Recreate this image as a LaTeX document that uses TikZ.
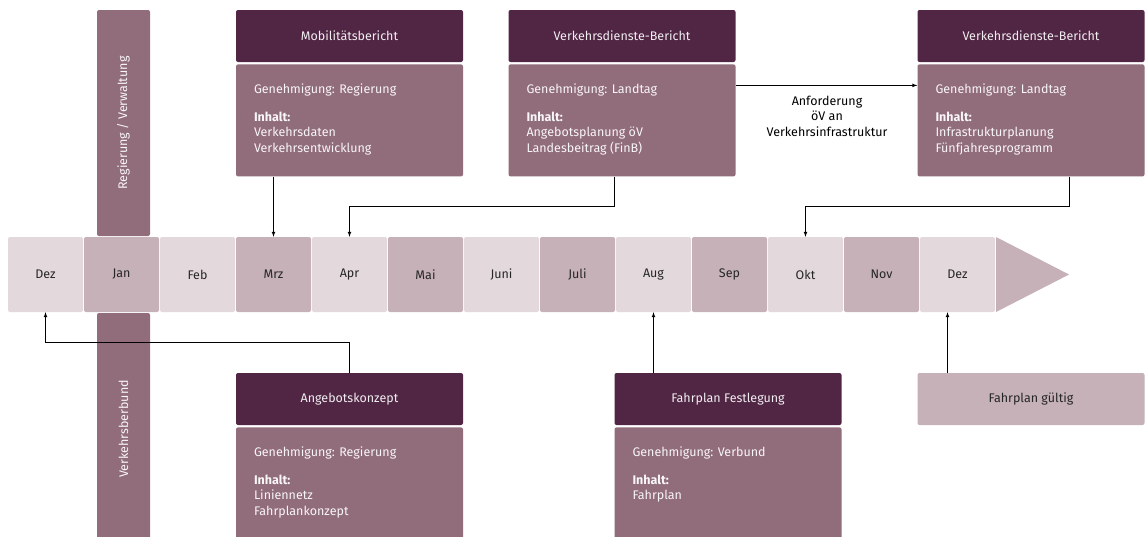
\documentclass[tikz,border=0pt]{standalone}
\usepackage{fontspec}
\setmainfont{Fira Sans}
\usetikzlibrary{positioning}
\definecolor{kopfviolett}{HTML}{512645}
\definecolor{inhaltviolett}{HTML}{916C7B}
\definecolor{monathell}{HTML}{E3D8DC}
\definecolor{monatmittel}{HTML}{C5B1B7}
\tikzset{
  monat/.style={rounded corners=2pt, minimum width=75pt, minimum height=75pt, inner sep=0pt, text=black!85},
  kopf/.style={fill=kopfviolett, rounded corners=2pt, minimum width=227pt, minimum height=52pt, inner sep=0pt, text=white!92!kopfviolett},
  inhalt/.style={fill=inhaltviolett, rounded corners=2pt, minimum width=227pt, inner sep=0pt},
  inhalttext/.style={anchor=north west, align=left, inner sep=0pt, text=white!94!inhaltviolett},
  balken/.style={fill=inhaltviolett, rounded corners=2pt, minimum height=53pt, inner sep=0pt, text=white!94!inhaltviolett},
  pfeil/.style={->, >=latex, line width=0.7pt}
}
\begin{document}
\begin{tikzpicture}[x=1pt, y=-1pt, font=\fontsize{12.5}{15.5}\selectfont]
    \useasboundingbox (0,0) rectangle (1145,536);

    % Zeitachse
    \foreach \name [count=\i from 0] in {Dez,Jan,Feb,Mrz,Apr,Mai,Juni,Juli,Aug,Sep,Okt,Nov,Dez}{
        \pgfmathsetmacro{\farbe}{ifthenelse(mod(\i,2)==0,"monathell","monatmittel")}
        \node[monat, fill=\farbe] (m\i) at (45.5+76*\i,274.5) {\name};
    }
    \fill[monatmittel] (996,237) -- (1069,274.5) -- (996,312) -- cycle;

    % Ebenen
    \node[balken, rotate=90, minimum width=226pt] (verw) at (123.5,123) {Regierung / Verwaltung};
    \node[balken, rotate=90, minimum width=232pt] (verb) at (123.5,429) {Verkehrsberbund};

    % oben
    \node[kopf] (mob) at (349.5,36) {Mobilitätsbericht};
    \node[inhalt, minimum height=112pt, below=2pt of mob] (mobB) {};
    \node[inhalttext] (mobT) at ([xshift=18pt,yshift=-19pt]mobB.north west)
        {Genehmigung: Regierung\\[12.5pt]\textbf{Inhalt:}\\Verkehrsdaten\\Verkehrsentwicklung};

    \node[kopf] (vd1) at (622,36) {Verkehrsdienste-Bericht};
    \node[inhalt, minimum height=112pt, below=2pt of vd1] (vd1B) {};
    \node[inhalttext] (vd1T) at ([xshift=18pt,yshift=-19pt]vd1B.north west)
        {Genehmigung: Landtag\\[12.5pt]\textbf{Inhalt:}\\Angebotsplanung öV\\Landesbeitrag (FinB)};

    \node[kopf] (vd2) at (1031,36) {Verkehrsdienste-Bericht};
    \node[inhalt, minimum height=112pt, below=2pt of vd2] (vd2B) {};
    \node[inhalttext] (vd2T) at ([xshift=18pt,yshift=-19pt]vd2B.north west)
        {Genehmigung: Landtag\\[12.5pt]\textbf{Inhalt:}\\Infrastrukturplanung\\Fünfjahresprogramm};

    % unten
    \node[kopf] (ang) at (349.5,399) {Angebotskonzept};
    \node[inhalt, minimum height=118pt, below=2pt of ang] (angB) {};
    \node[inhalttext] (angT) at ([xshift=18pt,yshift=-19pt]angB.north west)
        {Genehmigung: Regierung\\[12.5pt]\textbf{Inhalt:}\\Liniennetz\\Fahrplankonzept};

    \node[kopf] (fpf) at (728,399) {Fahrplan Festlegung};
    \node[inhalt, minimum height=118pt, below=2pt of fpf] (fpfB) {};
    \node[inhalttext] (fpfT) at ([xshift=18pt,yshift=-19pt]fpfB.north west)
        {Genehmigung: Verbund\\[12.5pt]\textbf{Inhalt:}\\Fahrplan};

    \node[kopf, fill=monatmittel, text=black!85] (fpg) at (1031,399) {Fahrplan gültig};

    % Pfeile
    \draw[pfeil] (mobB.south -| m3.north) -- (m3.north);
    \draw[pfeil] ([xshift=-8pt]vd1B.south) |- ([yshift=30pt]m4.north) -- (m4.north);
    \draw[pfeil] ([xshift=38pt]vd2B.south) |- ([yshift=30pt]m10.north) -- (m10.north);
    \draw[pfeil] ([yshift=35pt]vd1B.east) -- ([yshift=35pt]vd2B.west);
    \node[align=center, inner sep=0pt] (anf) at (827,116) {Anforderung\\öV an\\Verkehrsinfrastruktur};

    \draw[pfeil] (ang.north) |- ([yshift=-30pt]m0.south) -- (m0.south);
    \draw[pfeil] (fpf.north -| m8.south) -- (m8.south);
    \coordinate (gz) at ([xshift=-10pt]m12.south);
    \draw[pfeil] (gz |- fpg.north) -- (gz);
\end{tikzpicture}
\end{document}
